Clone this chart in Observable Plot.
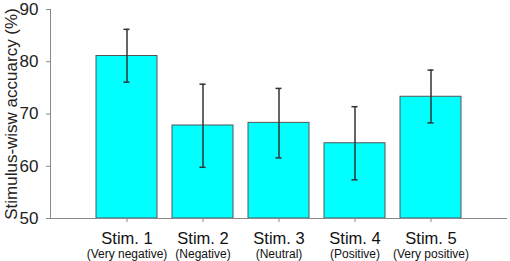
<!DOCTYPE html>
<html>
<head>
<meta charset="utf-8">
<script src="https://cdn.jsdelivr.net/npm/d3@7"></script>
<script src="https://cdn.jsdelivr.net/npm/@observablehq/plot@0.6"></script>
<style>
  html, body { margin: 0; padding: 0; background: #fff; }
  svg { display: block; }
</style>
</head>
<body>
<div id="chart"></div>
<script>
const stims = ["Stim. 1", "Stim. 2", "Stim. 3", "Stim. 4", "Stim. 5"];
const subLabels = ["(Very negative)", "(Negative)", "(Neutral)", "(Positive)", "(Very positive)"];
const means = [81.1, 67.8, 68.3, 64.4, 73.3];
const upper = [86.2, 75.7, 74.9, 71.4, 78.4];
const lower = [76.1, 59.8, 61.6, 57.4, 68.3];
const yTicks = [50, 60, 70, 80, 90];
const yTitle = "Stimulus-wisw accuarcy (%)";

const data = stims.map((s, i) => ({stim: s, sub: subLabels[i], value: means[i], hi: upper[i], lo: lower[i]}));

const W = 510, H = 261, mL = 50, mR = 3;
const bandFrac = 0.8;
const step = (W - mL - mR) / (stims.length - 0.2 + 1.2);
const capInset = (step * bandFrac - 6) / 2;

const chart = Plot.plot({
  width: W,
  height: H,
  marginLeft: mL,
  marginRight: mR,
  marginTop: 9,
  marginBottom: 43,
  style: {background: "#fff", fontFamily: "'Liberation Sans', Arial, sans-serif"},
  x: {domain: stims, paddingInner: 0.2, paddingOuter: 0.6, axis: null},
  y: {domain: [50, 90], axis: null},
  marks: [
    Plot.barY(data, {x: "stim", y1: 50, y2: "value", fill: "#00ffff", stroke: "#555", strokeWidth: 1}),
    Plot.ruleX(data, {x: "stim", y1: "lo", y2: "hi", stroke: "#333", strokeWidth: 1.5}),
    Plot.tickY(data, {x: "stim", y: "hi", stroke: "#333", strokeWidth: 1.5, insetLeft: capInset, insetRight: capInset}),
    Plot.tickY(data, {x: "stim", y: "lo", stroke: "#333", strokeWidth: 1.5, insetLeft: capInset, insetRight: capInset}),
    Plot.ruleY([50], {stroke: "#888", strokeWidth: 1}),
    Plot.frame({anchor: "left", stroke: "#888", strokeWidth: 1}),
    Plot.axisY({ticks: yTicks, tickSize: 4, tickPadding: 8, fontSize: 17, stroke: "#888", color: "#222", label: null, tickFormat: d => String(d)}),
    Plot.axisX({tickSize: 4, stroke: "#888", label: null, tickFormat: () => ""}),
    Plot.text(data, {x: "stim", text: "stim", frameAnchor: "bottom", lineAnchor: "bottom", dy: 25, fontSize: 16.5, fill: "#111", letterSpacing: "0.8px"}),
    Plot.text(data, {x: "stim", text: "sub", frameAnchor: "bottom", lineAnchor: "bottom", dy: 39.5, fontSize: 12, fill: "#111", letterSpacing: "0.9px"}),
    Plot.text([yTitle], {frameAnchor: "left", textAnchor: "middle", rotate: -90, dx: -39, fontSize: 17, fill: "#222", text: d => d})
  ]
});
document.getElementById("chart").appendChild(chart);
</script>
</body>
</html>
